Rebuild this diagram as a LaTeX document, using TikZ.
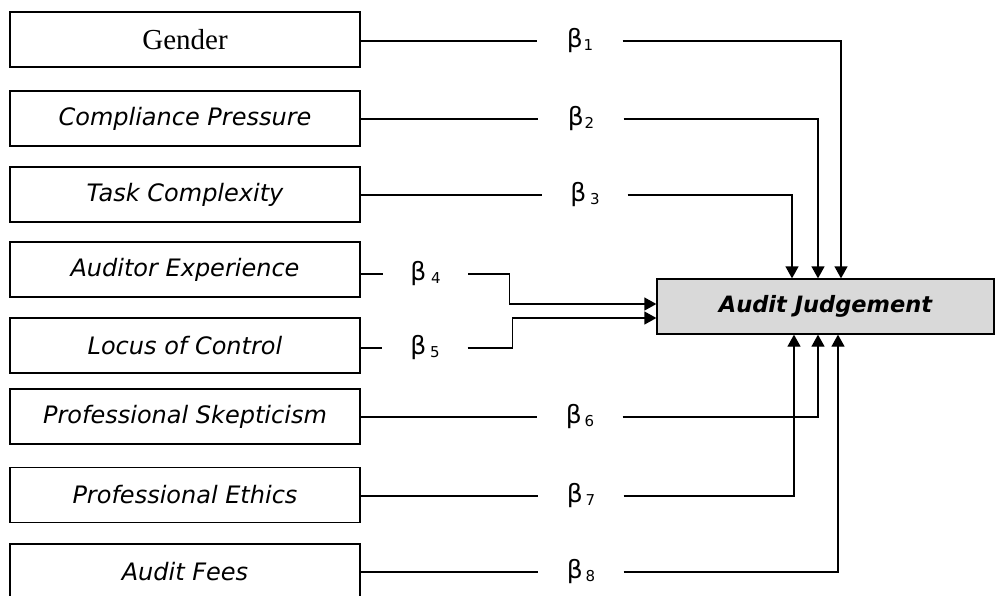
\documentclass[tikz,border=0pt]{standalone}
\usepackage{fontspec}
\setmainfont{DejaVu Sans}
\newfontfamily\gendfont{Liberation Serif}
\usetikzlibrary{arrows.meta}
\definecolor{judgegray}{HTML}{D9D9D9}
\newcommand{\bcoef}[2][1pt]{β\kern#1\raisebox{-3pt}{\fontsize{15}{15}\selectfont#2}}

\begin{document}
\begin{tikzpicture}[x=1pt,y=1pt]
\tikzstyle{every node}+=[inner sep=0pt]
\tikzstyle{varbox}=[draw=black, line width=1.3pt, minimum width=350pt, minimum height=55pt, font=\fontsize{24}{26}\selectfont\itshape]
\tikzstyle{coef}=[minimum width=85pt, minimum height=20pt, font=\fontsize{25}{27}\selectfont]
\tikzstyle{link}=[black, line width=1.3pt]
\tikzstyle{arr}=[link, -{Triangle[length=12pt,width=13pt]}]
\useasboundingbox (0,0) rectangle (996,-595);
\clip (0,0) rectangle (996,-595);
% predictor boxes
\node[varbox] (gender) at (185,-39.5) {\gendfont\upshape\fontsize{29}{31}\selectfont Gender};
\node[varbox] (comp) at (185,-118.5) {Compliance Pressure};
\node[varbox] (task) at (185,-194.5) {Task Complexity};
\node[varbox] (exper) at (185,-269.5) {Auditor Experience};
\node[varbox] (locus) at (185,-345.5) {Locus of Control};
\node[varbox] (skep) at (185,-416.5) {Professional Skepticism};
\node[varbox] (ethic) at (185,-495) {Professional Ethics};
\node[varbox] (fees) at (185,-571.5) {Audit Fees};
% dependent variable
\node[draw=black, line width=1.3pt, fill=judgegray, minimum width=337pt, minimum height=55pt,
  font=\fontsize{22.5}{24}\selectfont\bfseries\itshape] (judge) at (825.5,-306.5) {Audit Judgement};
% coefficients
\node[coef] (b1) at (580,-41) {\bcoef{1}};
\node[coef] (b2) at (581,-119) {\bcoef{2}};
\node[coef] (b3) at (585,-195) {\bcoef[4pt]{3}};
\node[coef] (b4) at (425.5,-274) {\bcoef[5pt]{4}};
\node[coef] (b5) at (425,-348) {\bcoef[4pt]{5}};
\node[coef] (b6) at (580,-417) {\bcoef[3pt]{6}};
\node[coef] (b7) at (581,-496) {\bcoef[3pt]{7}};
\node[coef] (b8) at (581,-572) {\bcoef[3pt]{8}};
% entry points on the judgement box
\coordinate (t1) at ([xshift=15.5pt]judge.north);
\coordinate (t2) at ([xshift=-7.5pt]judge.north);
\coordinate (t3) at ([xshift=-33.5pt]judge.north);
\coordinate (w4) at ([yshift=2.5pt]judge.west);
\coordinate (w5) at ([yshift=-11.5pt]judge.west);
\coordinate (u6) at ([xshift=-7.5pt]judge.south);
\coordinate (u7) at ([xshift=-31.5pt]judge.south);
\coordinate (u8) at ([xshift=12.5pt]judge.south);
% connectors
\draw[link] (b1.west -| gender.east) -- (b1.west);
\draw[link] (b2.west -| comp.east) -- (b2.west);
\draw[link] (b3.west -| task.east) -- (b3.west);
\draw[link] (b4.west -| exper.east) -- (b4.west);
\draw[link] (b5.west -| locus.east) -- (b5.west);
\draw[link] (b6.west -| skep.east) -- (b6.west);
\draw[link] (b7.west -| ethic.east) -- (b7.west);
\draw[link] (b8.west -| fees.east) -- (b8.west);
\draw[arr] (b1.east) -| (t1);
\draw[arr] (b2.east) -| (t2);
\draw[arr] (b3.east) -| (t3);
\draw[arr] (b4.east) -- ++(41,0) |- (w4);
\draw[arr] (b5.east) -- ++(45,0) |- (w5);
\draw[arr] (b6.east) -| (u6);
\draw[arr] (b7.east) -| (u7);
\draw[arr] (b8.east) -| (u8);
\end{tikzpicture}
\end{document}
